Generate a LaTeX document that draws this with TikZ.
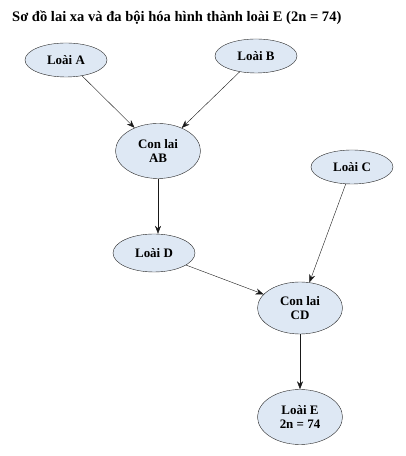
\documentclass[tikz,border=0pt]{standalone}
\usepackage{fontspec}
\setmainfont{Liberation Serif}
\usetikzlibrary{shapes.geometric,arrows.meta}
\definecolor{loaifill}{HTML}{DEE8F4}
\begin{document}
\begin{tikzpicture}[x=1bp,y=1bp]
	% Styles for the elements
	\tikzstyle{loai}	= [ellipse, draw=black!85, fill=loaifill, inner sep=0pt, minimum width=82bp, minimum height=34bp, font=\bfseries\fontsize{13}{14.5}\selectfont, align=center]
	\tikzstyle{conlai}	= [ellipse, draw=black!85, fill=loaifill, inner sep=0pt, minimum width=85bp, minimum height=55bp, font=\bfseries\fontsize{13}{14.5}\selectfont, align=center]
	\tikzstyle{pil}		= [-{Stealth[length=8bp,width=6bp]}, black!90]

	\useasboundingbox (0,0) rectangle (405,456);

	% Title
	\node[anchor=base west, inner sep=0pt, font=\bfseries\fontsize{14.6}{16}\selectfont] (tittel) at (12,434) {Sơ đồ lai xa và đa bội hóa hình thành loài E (2n = 74)};

	% Parent species
	\node[loai]		(loai_a)	at (66,396)		{Loài A};
	\node[loai]		(loai_b)	at (256,400)	{Loài B};
	\node[loai]		(loai_c)	at (352,289)	{Loài C};

	% Hybrids and new species
	\node[conlai]	(conlai_ab)	at (158,305)	{Con lai\\AB};
	\node[loai, minimum height=38bp]	(loai_d)	at (154,203)	{Loài D};
	\node[conlai, minimum height=52bp]	(conlai_cd)	at (300,148)	{Con lai\\CD};
	\node[conlai]	(loai_e)	[below of=conlai_cd, node distance=109bp]	{Loài E\\2n = 74};

	% Arrows
	\draw[pil] (loai_a)		-- (conlai_ab);
	\draw[pil] (loai_b)		-- (conlai_ab);
	\draw[pil] (conlai_ab)	-- (loai_d.north -| conlai_ab);
	\draw[pil] (loai_c)		-- (conlai_cd);
	\draw[pil] (loai_d)		-- (conlai_cd);
	\draw[pil] (conlai_cd)	-- (loai_e);
\end{tikzpicture}
\end{document}
